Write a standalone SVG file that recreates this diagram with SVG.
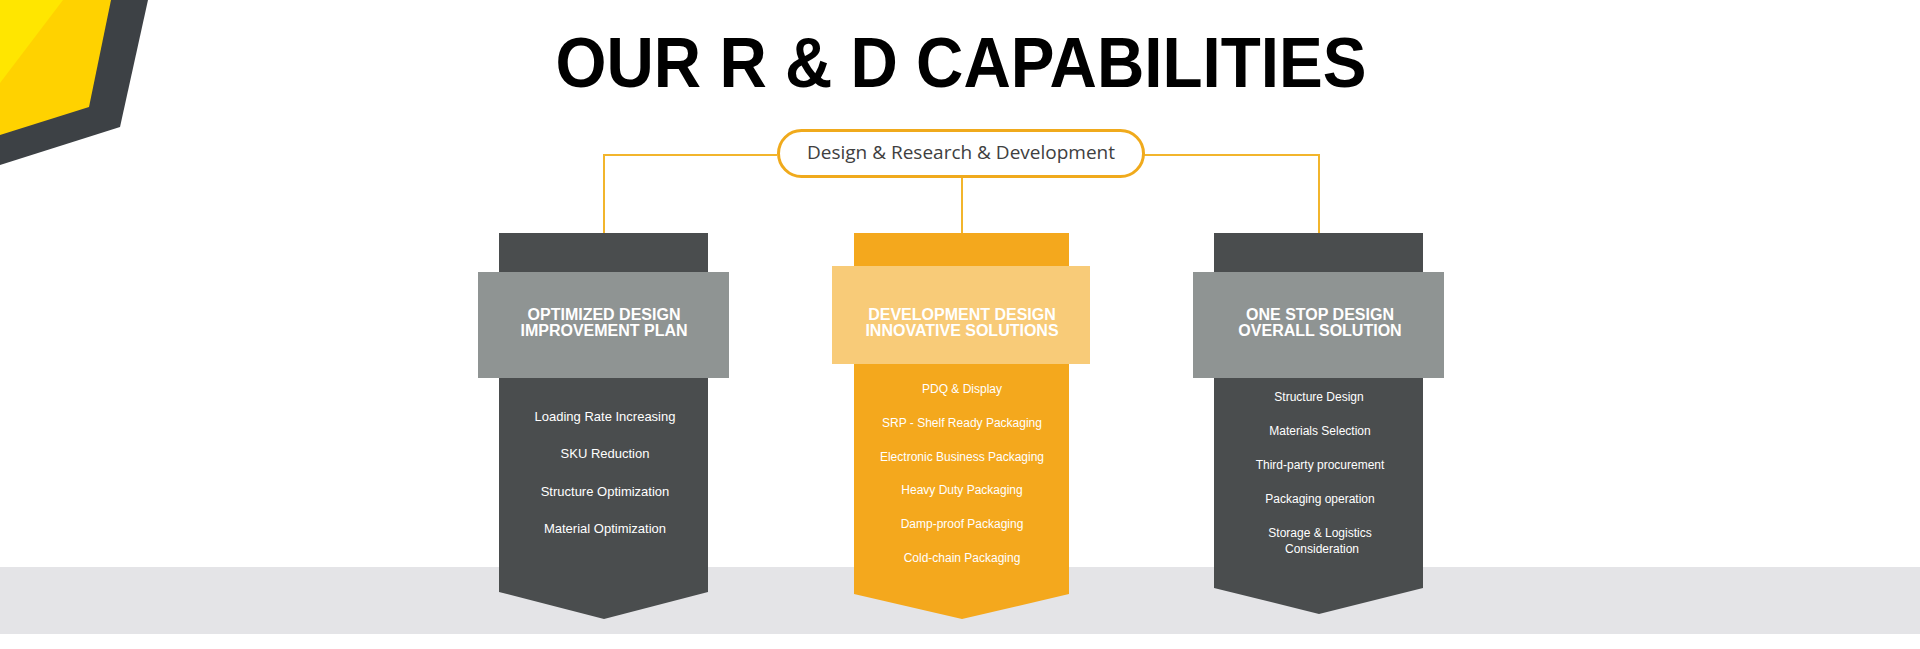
<svg xmlns="http://www.w3.org/2000/svg" width="1920" height="649" viewBox="0 0 1920 649">
<style>
.dark{fill:#4a4d4e}
.grey{fill:#8f9493}
.orange{fill:#f4a81d}
.lorange{fill:#f8cb78}
.head{font-family:"Liberation Sans",Arial,sans-serif;font-weight:bold;font-size:16px;fill:#ffffff;text-anchor:middle}
.item{font-family:"Liberation Sans",Arial,sans-serif;font-size:12px;fill:#ffffff;text-anchor:middle}
.item13{font-family:"Liberation Sans",Arial,sans-serif;font-size:13px;fill:#ffffff;text-anchor:middle}
.conn{fill:none;stroke:#f2b52c;stroke-width:2}
</style>
<rect x="0" y="0" width="1920" height="649" fill="#ffffff"/>
<rect x="0" y="567" width="1920" height="67" fill="#e4e4e7"/>
<g id="corner">
<polygon points="0,0 148,0 120,127 0,165" fill="#3d4145"/>
<polygon points="0,0 111,0 89,107 0,135" fill="#ffd200"/>
<polygon points="0,0 63,0 0,83" fill="#ffe600"/>
</g>
<text x="961" y="87" font-family="'Liberation Sans',Arial,sans-serif" font-weight="bold" font-size="70" fill="#000000" text-anchor="middle" textLength="811" lengthAdjust="spacingAndGlyphs">OUR R &amp; D CAPABILITIES</text>
<g id="connectors">
<polyline class="conn" points="777,155 604,155 604,233"/>
<polyline class="conn" points="1144,155 1319,155 1319,233"/>
<line class="conn" x1="962" y1="177" x2="962" y2="233"/>
</g>
<g id="root">
<rect x="778.5" y="130.5" width="365" height="46" rx="23" fill="#ffffff" stroke="#f0aa1c" stroke-width="3"/>
<text x="961" y="159" font-family="'Open Sans','Noto Sans',sans-serif" font-size="19" fill="#404040" text-anchor="middle">Design &amp; Research &amp; Development</text>
</g>
<g id="col-left">
<polygon class="dark" points="499,233 708,233 708,592 604,619 499,592"/>
<rect class="grey" x="478" y="272" width="251" height="106"/>
<text class="head" x="604" y="320">OPTIMIZED DESIGN</text>
<text class="head" x="604" y="336">IMPROVEMENT PLAN</text>
<text class="item13" x="605" y="421">Loading Rate Increasing</text>
<text class="item13" x="605" y="458">SKU Reduction</text>
<text class="item13" x="605" y="496">Structure Optimization</text>
<text class="item13" x="605" y="533">Material Optimization</text>
</g>
<g id="col-middle">
<polygon class="orange" points="854,233 1069,233 1069,594 962,619 854,594"/>
<rect class="lorange" x="832" y="266" width="258" height="98"/>
<text class="head" x="962" y="320">DEVELOPMENT DESIGN</text>
<text class="head" x="962" y="336">INNOVATIVE SOLUTIONS</text>
<text class="item" x="962" y="393">PDQ &amp; Display</text>
<text class="item" x="962" y="427">SRP - Shelf Ready Packaging</text>
<text class="item" x="962" y="461">Electronic Business Packaging</text>
<text class="item" x="962" y="494">Heavy Duty Packaging</text>
<text class="item" x="962" y="528">Damp-proof Packaging</text>
<text class="item" x="962" y="562">Cold-chain Packaging</text>
</g>
<g id="col-right">
<polygon class="dark" points="1214,233 1423,233 1423,588 1319,614 1214,588"/>
<rect class="grey" x="1193" y="272" width="251" height="106"/>
<text class="head" x="1320" y="320">ONE STOP DESIGN</text>
<text class="head" x="1320" y="336">OVERALL SOLUTION</text>
<text class="item" x="1319" y="401">Structure Design</text>
<text class="item" x="1320" y="435">Materials Selection</text>
<text class="item" x="1320" y="469">Third-party procurement</text>
<text class="item" x="1320" y="503">Packaging operation</text>
<text class="item" x="1320" y="537">Storage &amp; Logistics</text>
<text class="item" x="1322" y="553">Consideration</text>
</g>
</svg>
